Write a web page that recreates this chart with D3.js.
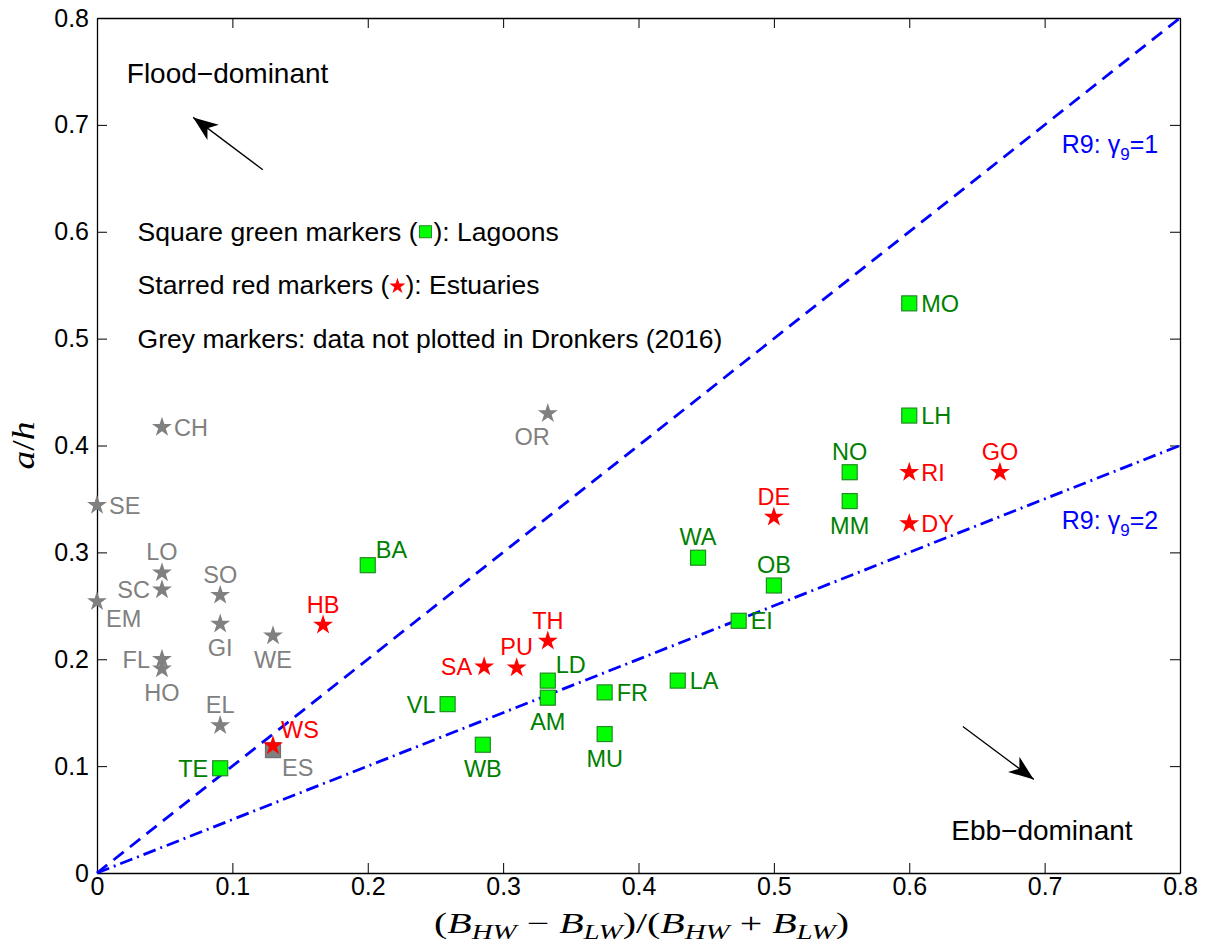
<!DOCTYPE html>
<html>
<head>
<meta charset="utf-8">
<script src="https://cdn.jsdelivr.net/npm/d3@7"></script>
<style>
  body { margin: 0; background: #fff; }
  text { font-family: "Liberation Sans", Arial, Helvetica, sans-serif; }
</style>
</head>
<body>
<svg id="chart"></svg>
<script>
// lagoons (green squares)
const lagoonNames = ["TE", "VL", "WB", "BA", "LD", "AM", "FR", "MU", "LA", "WA", "EI", "OB", "NO", "MM", "LH", "MO"];
const lagoonX = [0.091, 0.259, 0.285, 0.200, 0.333, 0.333, 0.375, 0.375, 0.429, 0.444, 0.474, 0.500, 0.556, 0.556, 0.600, 0.600];
const lagoonY = [0.098, 0.158, 0.120, 0.288, 0.180, 0.164, 0.169, 0.130, 0.180, 0.295, 0.236, 0.269, 0.375, 0.348, 0.428, 0.533];
const lagoonLabelPos = ["w", "w", "s", "ne", "ne", "s", "e", "s", "e", "n", "e", "n", "n", "s", "e", "e"];

// estuaries (red stars)
const estuaryNames = ["WS", "HB", "SA", "PU", "TH", "DE", "RI", "DY", "GO"];
const estuaryX = [0.130, 0.167, 0.286, 0.310, 0.333, 0.500, 0.600, 0.600, 0.667];
const estuaryY = [0.119, 0.232, 0.193, 0.192, 0.217, 0.333, 0.375, 0.327, 0.375];
const estuaryLabelPos = ["ne", "n", "w", "n", "n", "n", "e", "e", "n"];

// grey stars: not plotted in Dronkers (2016)
const greyNames = ["CH", "SE", "LO", "SC", "EM", "SO", "GI", "WE", "FL", "HO", "EL", "OR"];
const greyX = [0.048, 0.000, 0.048, 0.048, 0.000, 0.091, 0.091, 0.130, 0.048, 0.048, 0.091, 0.333];
const greyY = [0.417, 0.344, 0.281, 0.265, 0.254, 0.260, 0.233, 0.222, 0.200, 0.191, 0.138, 0.430];
const greyLabelPos = ["e", "e", "n", "w", "se", "n", "s", "s", "w", "s", "n", "sw"];

// grey square
const greyLagoonNames = ["ES"];
const greyLagoonX = [0.130];
const greyLagoonY = [0.115];
const greyLagoonLabelPos = ["se"];

// R9 lines, a/h = x / gamma
const gammas = [1, 2];
const lineX = [0, 0.8];

const xTicks = [0, 0.1, 0.2, 0.3, 0.4, 0.5, 0.6, 0.7, 0.8];
const yTicks = [0, 0.1, 0.2, 0.3, 0.4, 0.5, 0.6, 0.7, 0.8];

const legendLines = [
  ["Square green markers (", "): Lagoons"],
  ["Starred red markers (", "): Estuaries"],
  ["Grey markers: data not plotted in Dronkers (2016)"]
];

const width = 1207, height = 949;
const margin = { top: 18, right: 27, bottom: 76, left: 97 };

const svg = d3.select("#chart")
  .attr("width", width)
  .attr("height", height)
  .style("background", "#fff");

const x = d3.scaleLinear().domain([0, 0.8]).range([margin.left, width - margin.right]);
const y = d3.scaleLinear().domain([0, 0.8]).range([height - margin.bottom, margin.top]);

const fmt = d => d === 0 ? "0" : d3.format(".1f")(d);

// axes, ticks inside like matlab
function styleAxis(g) {
  g.select(".domain").attr("stroke", "#000").attr("stroke-width", 1.3);
  g.selectAll(".tick line").attr("stroke", "#000").attr("stroke-width", 1);
  g.selectAll(".tick text").attr("fill", "#000").style("font-size", "25px")
    .style("font-family", '"Liberation Sans", Arial, sans-serif');
}

svg.append("g")
  .attr("transform", `translate(0,${y(0)})`)
  .call(d3.axisBottom(x).tickValues(xTicks).tickFormat(fmt).tickSizeInner(-10).tickSizeOuter(0).tickPadding(4))
  .call(styleAxis);
svg.append("g")
  .attr("transform", `translate(0,${y(0.8)})`)
  .call(d3.axisTop(x).tickValues(xTicks).tickFormat("").tickSizeInner(-10).tickSizeOuter(0))
  .call(styleAxis);
svg.append("g")
  .attr("transform", `translate(${x(0)},0)`)
  .call(d3.axisLeft(y).tickValues(yTicks).tickFormat(fmt).tickSizeInner(-10).tickSizeOuter(0).tickPadding(8))
  .call(styleAxis);
svg.append("g")
  .attr("transform", `translate(${x(0.8)},0)`)
  .call(d3.axisRight(y).tickValues(yTicks).tickFormat("").tickSizeInner(-10).tickSizeOuter(0))
  .call(styleAxis);

// R9 lines
const lineStyles = { 1: "13,8", 2: "13,5,2,5" };
gammas.forEach(g => {
  svg.append("path")
    .datum(lineX.map(v => [v, v / g]))
    .attr("d", d3.line().x(d => x(d[0])).y(d => y(d[1])))
    .attr("fill", "none")
    .attr("stroke", "#0000ff")
    .attr("stroke-width", 2.8)
    .attr("stroke-dasharray", lineStyles[g]);
});

// R9 labels
function r9Label(xv, yv, g) {
  const t = svg.append("text")
    .attr("x", x(xv)).attr("y", y(yv)).attr("dy", "0.35em")
    .attr("fill", "#0000ff").style("font-size", "25px");
  t.append("tspan").text("R9: \u03b3");
  t.append("tspan").attr("dy", 7).style("font-size", "17px").text("9");
  t.append("tspan").attr("dy", -7).text("=" + g);
}
r9Label(0.7127, 0.682, 1);
r9Label(0.7127, 0.330, 2);

// marker shapes
function starPath(r) {
  const ri = r * 0.382;
  const pts = d3.range(10).map(i => {
    const a = -Math.PI / 2 + i * Math.PI / 5;
    const rr = i % 2 === 0 ? r : ri;
    return [rr * Math.cos(a), rr * Math.sin(a)];
  });
  return "M" + pts.map(p => p.join(",")).join("L") + "Z";
}

const labelOffset = {
  e:  { dx: 12, dy: 0, anchor: "start" },
  w:  { dx: -12, dy: 0, anchor: "end" },
  n:  { dx: 0, dy: -21, anchor: "middle" },
  s:  { dx: 0, dy: 24, anchor: "middle" },
  ne: { dx: 8, dy: -16, anchor: "start" },
  se: { dx: 9, dy: 17, anchor: "start" },
  sw: { dx: 2, dy: 23, anchor: "end" }
};

function drawGroup(names, xs, ys, pos, shape, fill, stroke, labelColor) {
  const data = names.map((n, i) => ({ name: n, x: xs[i], y: ys[i], pos: pos[i] }));
  const g = svg.append("g");
  if (shape === "square") {
    g.selectAll("rect").data(data).join("rect")
      .attr("x", d => x(d.x) - 7.5).attr("y", d => y(d.y) - 7.5)
      .attr("width", 15).attr("height", 15)
      .attr("fill", fill).attr("stroke", stroke).attr("stroke-width", 1.2);
  } else {
    g.selectAll("path").data(data).join("path")
      .attr("d", starPath(10.5))
      .attr("transform", d => `translate(${x(d.x)},${y(d.y)})`)
      .attr("fill", fill);
  }
  g.selectAll("text").data(data).join("text")
    .attr("x", d => x(d.x) + labelOffset[d.pos].dx)
    .attr("y", d => y(d.y) + labelOffset[d.pos].dy)
    .attr("dy", "0.36em")
    .attr("text-anchor", d => labelOffset[d.pos].anchor)
    .attr("fill", labelColor)
    .style("font-size", "23.5px")
    .text(d => d.name);
}

drawGroup(greyNames, greyX, greyY, greyLabelPos, "star", "#808080", null, "#808080");
drawGroup(greyLagoonNames, greyLagoonX, greyLagoonY, greyLagoonLabelPos, "square", "#808080", "#707070", "#808080");
drawGroup(estuaryNames, estuaryX, estuaryY, estuaryLabelPos, "star", "#ff0000", null, "#ff0000");
drawGroup(lagoonNames, lagoonX, lagoonY, lagoonLabelPos, "square", "#00ff00", "#228b22", "#008000");

// legend text block
const legendY = [0.6, 0.55, 0.5];
legendLines.forEach((parts, i) => {
  const tx = x(0.03), ty = y(legendY[i]);
  const t1 = svg.append("text").attr("x", tx).attr("y", ty).attr("dy", "0.35em")
    .style("font-size", "26.5px").attr("fill", "#000").text(parts[0]);
  if (parts.length > 1) {
    const w1 = t1.node().getComputedTextLength();
    const mx = tx + w1 + 8;
    if (i === 0) {
      svg.append("rect").attr("x", mx - 6).attr("y", ty - 6).attr("width", 12).attr("height", 12)
        .attr("fill", "#00ff00").attr("stroke", "#228b22").attr("stroke-width", 1);
    } else {
      svg.append("path").attr("d", starPath(8.5)).attr("transform", `translate(${mx},${ty + 1})`)
        .attr("fill", "#ff0000");
    }
    svg.append("text").attr("x", mx + 8).attr("y", ty).attr("dy", "0.35em")
      .style("font-size", "26.5px").attr("fill", "#000").text(parts[1]);
  }
});

// flood / ebb annotations with arrows
function arrow(x0, y0, x1, y1) {
  const px0 = x(x0), py0 = y(y0), px1 = x(x1), py1 = y(y1);
  svg.append("line").attr("x1", px0).attr("y1", py0).attr("x2", px1).attr("y2", py1)
    .attr("stroke", "#000").attr("stroke-width", 1.3);
  const len = Math.hypot(px1 - px0, py1 - py0);
  const ux = (px1 - px0) / len, uy = (py1 - py0) / len;
  const nx = -uy, ny = ux;
  const L = 25, Wd = 9.5, N = 18;
  const pts = [
    [px1, py1],
    [px1 - ux * L + nx * Wd, py1 - uy * L + ny * Wd],
    [px1 - ux * N, py1 - uy * N],
    [px1 - ux * L - nx * Wd, py1 - uy * L - ny * Wd]
  ];
  svg.append("path").attr("d", "M" + pts.map(p => p.join(",")).join("L") + "Z").attr("fill", "#000");
}

svg.append("text").attr("x", x(0.022)).attr("y", y(0.748)).attr("dy", "0.35em")
  .style("font-size", "28px").attr("fill", "#000").text("Flood\u2212dominant");
arrow(0.1225, 0.658, 0.071, 0.707);

svg.append("text").attr("x", x(0.631)).attr("y", y(0.04)).attr("dy", "0.35em")
  .style("font-size", "28px").attr("fill", "#000").text("Ebb\u2212dominant");
arrow(0.6396, 0.137, 0.692, 0.0876);

// axis titles (latex-like)
const serif = '"Liberation Serif", "Times New Roman", serif';
const yl = svg.append("text")
  .attr("transform", `translate(34,${(y(0) + y(0.8)) / 2}) rotate(-90)`)
  .attr("text-anchor", "middle")
  .attr("textLength", 48).attr("lengthAdjust", "spacingAndGlyphs")
  .style("font-family", serif).style("font-size", "31px").attr("fill", "#000");
yl.append("tspan").style("font-style", "italic").text("a");
yl.append("tspan").text("/");
yl.append("tspan").style("font-style", "italic").text("h");

const xl = svg.append("text")
  .attr("x", (x(0) + x(0.8)) / 2 + 3).attr("y", 933)
  .attr("text-anchor", "middle")
  .attr("textLength", 415).attr("lengthAdjust", "spacingAndGlyphs")
  .style("font-family", serif).style("font-size", "29px").attr("fill", "#000");
// pieces: [text, italic, subscript]
const xlPieces = [
  ["(", false, false], ["B", true, false], ["HW", true, true],
  [" \u2212 ", false, false], ["B", true, false], ["LW", true, true],
  [")/(", false, false], ["B", true, false], ["HW", true, true],
  [" + ", false, false], ["B", true, false], ["LW", true, true],
  [")", false, false]
];
let shifted = false;
xlPieces.forEach(([txt, it, sub]) => {
  const ts = xl.append("tspan").text(txt);
  if (it) ts.style("font-style", "italic");
  if (sub) { ts.style("font-size", "21px").attr("dy", 6); shifted = true; }
  else if (shifted) { ts.attr("dy", -6); shifted = false; }
});
</script>
</body>
</html>
